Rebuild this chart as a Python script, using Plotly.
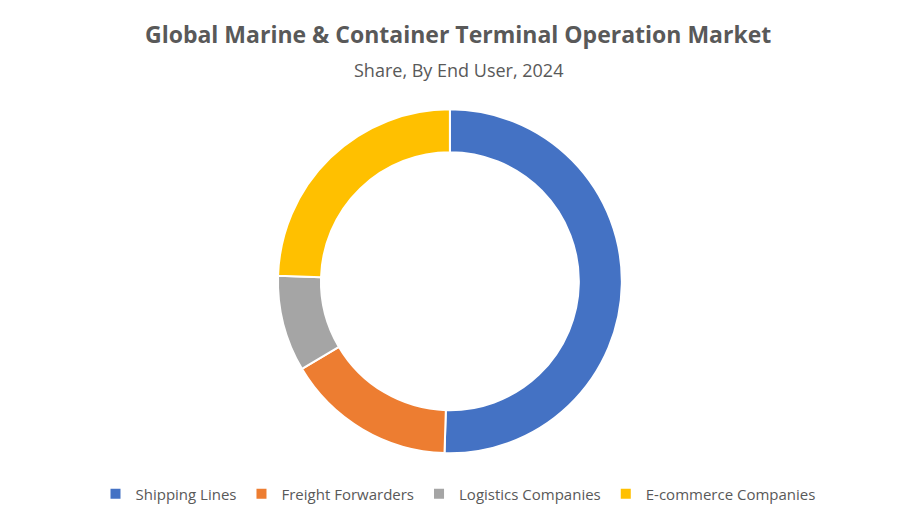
import plotly.graph_objects as go

labels = ["Shipping Lines", "Freight Forwarders", "Logistics Companies", "E-commerce Companies"]
values = [50.5, 16.0, 9.0, 24.5]
colors = ["#4472C4", "#ED7D31", "#A5A5A5", "#FFC000"]

fig = go.Figure(go.Pie(
    labels=labels, values=values, hole=0.75, sort=False, direction="clockwise",
    rotation=0, marker=dict(colors=colors, line=dict(color="white", width=2)),
    textinfo="none", hoverinfo="label+percent",
    domain=dict(x=[0, 0.982], y=[0.152, 0.807]),
))
fig.update_layout(
    width=900, height=525, margin=dict(l=0, r=0, t=0, b=0),
    paper_bgcolor="white", plot_bgcolor="white",
    font=dict(family="Open Sans, Liberation Sans, sans-serif", color="#595959"),
    annotations=[
        dict(text="<b>Global Marine & Container Terminal Operation Market</b>", x=0.5, y=1-26/525,
             yanchor="middle", xref="paper", yref="paper", showarrow=False, font=dict(size=23, color="#595959")),
        dict(text="Share, By End User, 2024", x=0.5, y=1-62/525, yanchor="middle", xref="paper", yref="paper",
             showarrow=False, font=dict(size=18, color="#595959")),
    ],
    legend=dict(orientation="h", x=0.5, xanchor="center", y=1-486/525, yanchor="middle",
                font=dict(size=15, color="#595959"), itemwidth=30),
)
fig.write_html("out.html")
